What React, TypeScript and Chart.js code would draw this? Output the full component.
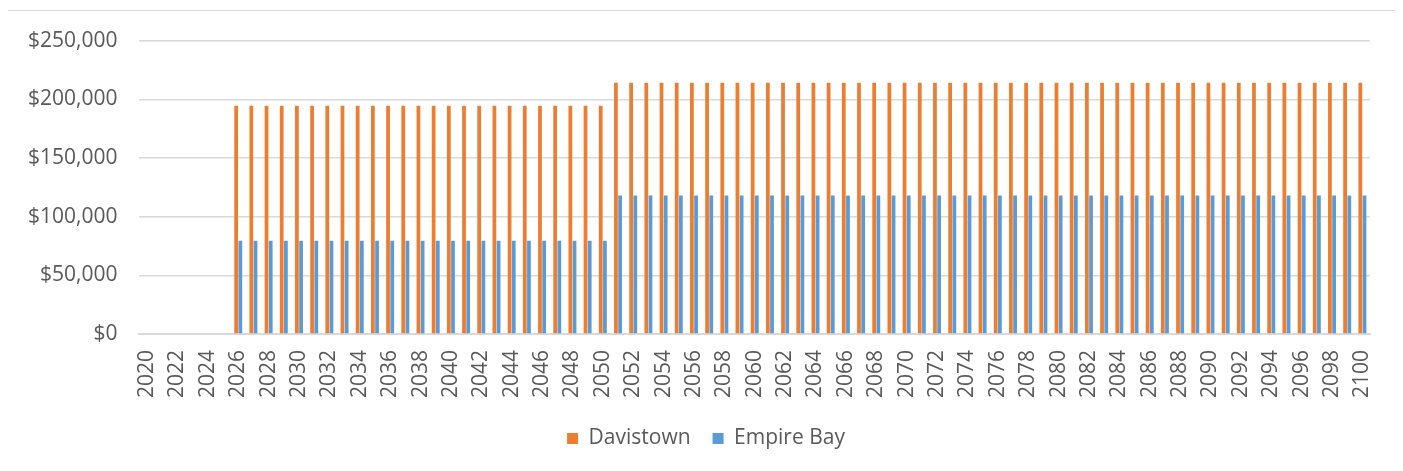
import React, { useEffect, useRef } from "react";
import { Chart, registerables } from "chart.js";

Chart.register(...registerables);

const years: string[] = [
  "2020","2021","2022","2023","2024","2025","2026","2027","2028","2029",
  "2030","2031","2032","2033","2034","2035","2036","2037","2038","2039",
  "2040","2041","2042","2043","2044","2045","2046","2047","2048","2049",
  "2050","2051","2052","2053","2054","2055","2056","2057","2058","2059",
  "2060","2061","2062","2063","2064","2065","2066","2067","2068","2069",
  "2070","2071","2072","2073","2074","2075","2076","2077","2078","2079",
  "2080","2081","2082","2083","2084","2085","2086","2087","2088","2089",
  "2090","2091","2092","2093","2094","2095","2096","2097","2098","2099",
  "2100",
];

// 2020-2025 zero, 2026-2050 lower level, 2051-2100 higher level
const davistown: number[] = [
  0, 0, 0, 0, 0, 0,
  194500, 194500, 194500, 194500, 194500, 194500, 194500, 194500, 194500, 194500,
  194500, 194500, 194500, 194500, 194500, 194500, 194500, 194500, 194500, 194500,
  194500, 194500, 194500, 194500, 194500,
  214000, 214000, 214000, 214000, 214000, 214000, 214000, 214000, 214000, 214000,
  214000, 214000, 214000, 214000, 214000, 214000, 214000, 214000, 214000, 214000,
  214000, 214000, 214000, 214000, 214000, 214000, 214000, 214000, 214000, 214000,
  214000, 214000, 214000, 214000, 214000, 214000, 214000, 214000, 214000, 214000,
  214000, 214000, 214000, 214000, 214000, 214000, 214000, 214000, 214000, 214000,
];

const empireBay: number[] = [
  0, 0, 0, 0, 0, 0,
  79500, 79500, 79500, 79500, 79500, 79500, 79500, 79500, 79500, 79500,
  79500, 79500, 79500, 79500, 79500, 79500, 79500, 79500, 79500, 79500,
  79500, 79500, 79500, 79500, 79500,
  118000, 118000, 118000, 118000, 118000, 118000, 118000, 118000, 118000, 118000,
  118000, 118000, 118000, 118000, 118000, 118000, 118000, 118000, 118000, 118000,
  118000, 118000, 118000, 118000, 118000, 118000, 118000, 118000, 118000, 118000,
  118000, 118000, 118000, 118000, 118000, 118000, 118000, 118000, 118000, 118000,
  118000, 118000, 118000, 118000, 118000, 118000, 118000, 118000, 118000, 118000,
];

const seriesNames = ["Davistown", "Empire Bay"];
const FONT = "'Open Sans', 'Liberation Sans', Arial, sans-serif";

const legendShift = {
  id: "legendShift",
  afterLayout(chart: any) {
    const lg = chart.legend;
    if (lg) {
      lg.left += 18;
      lg.right += 18;
    }
  },
};

export default function App() {
  const canvasRef = useRef<HTMLCanvasElement | null>(null);

  useEffect(() => {
    if (!canvasRef.current) return;
    const chart = new Chart(canvasRef.current, {
      type: "bar",
      data: {
        labels: years,
        datasets: [
          {
            label: seriesNames[0],
            data: davistown,
            backgroundColor: "#ED7D31",
            categoryPercentage: 0.55,
            barPercentage: 0.9,
          },
          {
            label: seriesNames[1],
            data: empireBay,
            backgroundColor: "#5B9BD5",
            categoryPercentage: 0.55,
            barPercentage: 0.9,
          },
        ],
      },
      options: {
        animation: false,
        responsive: true,
        maintainAspectRatio: false,
        layout: { padding: { top: 2, right: 26, left: -2, bottom: 20 } },
        plugins: {
          tooltip: { enabled: false },
          legend: {
            position: "bottom",
            labels: {
              boxWidth: 11,
              boxHeight: 11,
              color: "#595959",
              font: { family: FONT, size: 21 },
              padding: 22,
            },
          },
        },
        scales: {
          x: {
            grid: { display: false },
            border: { display: true, color: "#d9d9d9", width: 2 },
            ticks: {
              autoSkip: false,
              maxRotation: 90,
              minRotation: 90,
              color: "#595959",
              font: { family: FONT, size: 21 },
              padding: 8,
              callback: (_v: any, i: number) => (i % 2 === 0 ? years[i] : ""),
            },
          },
          y: {
            min: 0,
            max: 250000,
            border: { display: false },
            grid: { color: "#d9d9d9", lineWidth: 1.5, drawTicks: false },
            ticks: {
              stepSize: 50000,
              color: "#595959",
              font: { family: FONT, size: 21 },
              padding: 22,
              callback: (v: any) => "$" + Number(v).toLocaleString("en-US"),
            },
          },
        },
      },
      plugins: [legendShift],
    });
    return () => chart.destroy();
  }, []);

  return (
    <div
      style={{
        marginTop: 2,
        marginLeft: -1,
        width: 1390,
        height: 470,
        border: "1px solid #d9d9d9",
        boxSizing: "border-box",
        position: "relative",
        background: "#fff",
      }}
    >
      <div
        style={{
          position: "absolute",
          left: 0,
          top: -5,
          width: 1388,
          height: 473,
        }}
      >
        <canvas ref={canvasRef} />
      </div>
    </div>
  );
}
